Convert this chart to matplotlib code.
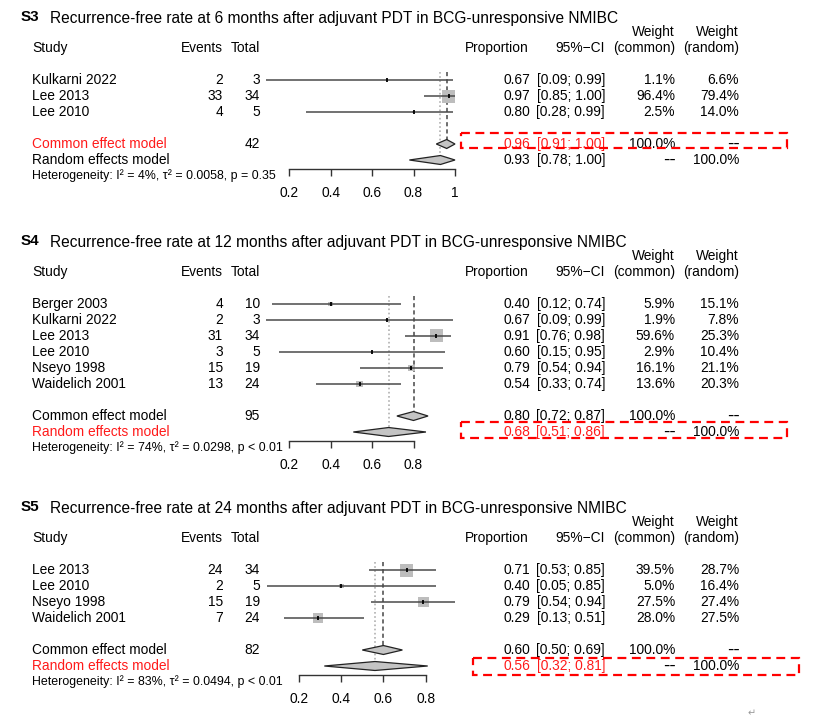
import numpy as np
import matplotlib
matplotlib.use('Agg')
import matplotlib.pyplot as plt
from matplotlib.patches import Polygon, Rectangle
from matplotlib.transforms import blended_transform_factory

plt.rcParams['font.family'] = ['Liberation Sans', 'DejaVu Sans']

# ---- data: S3 (6 months) ----
s3_title   = 'Recurrence-free rate at 6 months after adjuvant PDT in BCG-unresponsive NMIBC'
s3_study   = ['Kulkarni 2022', 'Lee 2013', 'Lee 2010']
s3_events  = [2, 33, 4]
s3_total   = [3, 34, 5]
s3_prop    = [0.67, 0.97, 0.80]
s3_lo      = [0.09, 0.85, 0.28]
s3_hi      = [0.99, 1.00, 0.99]
s3_wcom    = [1.1, 96.4, 2.5]
s3_wran    = [6.6, 79.4, 14.0]
s3_common  = [0.96, 0.91, 1.00]
s3_random  = [0.93, 0.78, 1.00]
s3_n       = 42
s3_het     = ['4%', '0.0058', 'p = 0.35']
s3_ticks   = [0.2, 0.4, 0.6, 0.8, 1.0]

# ---- data: S4 (12 months) ----
s4_title   = 'Recurrence-free rate at 12 months after adjuvant PDT in BCG-unresponsive NMIBC'
s4_study   = ['Berger 2003', 'Kulkarni 2022', 'Lee 2013', 'Lee 2010', 'Nseyo 1998', 'Waidelich 2001']
s4_events  = [4, 2, 31, 3, 15, 13]
s4_total   = [10, 3, 34, 5, 19, 24]
s4_prop    = [0.40, 0.67, 0.91, 0.60, 0.79, 0.54]
s4_lo      = [0.12, 0.09, 0.76, 0.15, 0.54, 0.33]
s4_hi      = [0.74, 0.99, 0.98, 0.95, 0.94, 0.74]
s4_wcom    = [5.9, 1.9, 59.6, 2.9, 16.1, 13.6]
s4_wran    = [15.1, 7.8, 25.3, 10.4, 21.1, 20.3]
s4_common  = [0.80, 0.72, 0.87]
s4_random  = [0.68, 0.51, 0.86]
s4_n       = 95
s4_het     = ['74%', '0.0298', 'p < 0.01']
s4_ticks   = [0.2, 0.4, 0.6, 0.8]

# ---- data: S5 (24 months) ----
s5_title   = 'Recurrence-free rate at 24 months after adjuvant PDT in BCG-unresponsive NMIBC'
s5_study   = ['Lee 2013', 'Lee 2010', 'Nseyo 1998', 'Waidelich 2001']
s5_events  = [24, 2, 15, 7]
s5_total   = [34, 5, 19, 24]
s5_prop    = [0.71, 0.40, 0.79, 0.29]
s5_lo      = [0.53, 0.05, 0.54, 0.13]
s5_hi      = [0.85, 0.85, 0.94, 0.51]
s5_wcom    = [39.5, 5.0, 27.5, 28.0]
s5_wran    = [28.7, 16.4, 27.4, 27.5]
s5_common  = [0.60, 0.50, 0.69]
s5_random  = [0.56, 0.32, 0.81]
s5_n       = 82
s5_het     = ['83%', '0.0494', 'p < 0.01']
s5_ticks   = [0.2, 0.4, 0.6, 0.8]

W, H = 821, 723
RED = '#ff1a1a'
FS = 9.9
ROW = 16.0  # px per row

fig = plt.figure(figsize=(W / 100, H / 100), dpi=100)


def fx(px):
    return px / W


def forest(label, title, study, events, total, prop, lo, hi, wcom, wran,
           common, random, n, het, ticks, y0, x02, ppu, highlight, box):
    ax = fig.add_axes([0, 0, 1, 1])
    ax.patch.set_alpha(0)
    ax.axis('off')
    ax.set_xlim(0.2 - x02 / ppu, 0.2 + (W - x02) / ppu)
    ax.set_ylim((H - y0) / ROW, -y0 / ROW)
    tr = blended_transform_factory(fig.transFigure, ax.transData)

    k = len(study)
    rc, rr = k + 1, k + 2          # rows of common / random model
    rows = np.arange(k)

    # titles
    ax.text(fx(21), -3.95, label, transform=tr, fontsize=11, fontweight='bold', va='center')
    ax.text(fx(50), -3.85, title, transform=tr, fontsize=11.2, va='center')

    # headers
    hdr = dict(transform=tr, fontsize=FS, va='center')
    ax.text(fx(32), -2, 'Study', ha='left', **hdr)
    ax.text(fx(223), -2, 'Events', ha='right', **hdr)
    ax.text(fx(260), -2, 'Total', ha='right', **hdr)
    ax.text(fx(529), -2, 'Proportion', ha='right', **hdr)
    ax.text(fx(605), -2, '95%\u2212CI', ha='right', **hdr)
    ax.text(fx(675), -3, 'Weight', ha='right', **hdr)
    ax.text(fx(675), -2, '(common)', ha='right', **hdr)
    ax.text(fx(739), -3, 'Weight', ha='right', **hdr)
    ax.text(fx(739), -2, '(random)', ha='right', **hdr)

    # study rows
    for i in range(k):
        ax.text(fx(32), i, study[i], ha='left', **hdr)
        ax.text(fx(223), i, str(events[i]), ha='right', **hdr)
        ax.text(fx(260), i, str(total[i]), ha='right', **hdr)
        ax.text(fx(530), i, '%.2f' % prop[i], ha='right', **hdr)
        ax.text(fx(605), i, '[%.2f; %.2f]' % (lo[i], hi[i]), ha='right', **hdr)
        ax.text(fx(675), i, '%.1f%%' % wcom[i], ha='right', **hdr)
        ax.text(fx(739), i, '%.1f%%' % wran[i], ha='right', **hdr)

    # model rows
    for r, name, est, wc, wr, key in [(rc, 'Common effect model', common, '100.0%', '--', 'common'),
                                      (rr, 'Random effects model', random, '--', '100.0%', 'random')]:
        col = RED if key == highlight else 'black'
        ax.text(fx(32), r, name, ha='left', color=col, **hdr)
        if key == 'common':
            ax.text(fx(260), r, str(n), ha='right', **hdr)
        ax.text(fx(530), r, '%.2f' % est[0], ha='right', color=col, **hdr)
        ax.text(fx(605), r, '[%.2f; %.2f]' % (est[1], est[2]), ha='right', color=col, **hdr)
        for xp, s in [(675, wc), (739, wr)]:
            if s == '--':
                ax.text(fx(xp + 1), r + 0.05, s, transform=tr, fontsize=13.5, va='center', ha='right')
            else:
                ax.text(fx(xp), r, s, ha='right', **hdr)

    ax.text(fx(32), rr + 0.97,
            'Heterogeneity: I\u00b2 = %s, \u03c4\u00b2 = %s, %s' % tuple(het),
            transform=tr, fontsize=8.9, va='center')

    # reference lines
    dh = 0.28
    ax.plot([common[0]] * 2, [-0.5, rc - dh], color='#555555', lw=1.2, ls=(0, (2.5, 1.8)), zorder=1)
    ax.plot([random[0]] * 2, [-0.5, rr - dh], color='#b0b0b0', lw=1.2, ls=(0, (1, 1.5)), zorder=1)

    # squares, CI lines, point marks
    wmax = max(wcom)
    side = 13 * np.sqrt(np.array(wcom) / wmax) * 0.72
    ax.scatter(prop, rows, s=side ** 2, marker='s', color='#bdbdbd', linewidths=0, zorder=2)
    ax.hlines(rows, lo, hi, color='#4a4a4a', lw=1.1, zorder=3)
    ax.plot(prop, rows, ls='none', marker='|', ms=3.5, mew=1.3, color='black', zorder=4)

    # diamonds
    for r, est in [(rc, common), (rr, random)]:
        ax.add_patch(Polygon([[est[1], r], [est[0], r - dh], [est[2], r], [est[0], r + dh]],
                             closed=True, facecolor='#c4c4c4', edgecolor='#222222', lw=0.9, zorder=3))

    # x axis
    ya = rr + 0.56
    ax.plot([ticks[0], ticks[-1]], [ya, ya], color='#333333', lw=1.0)
    ax.vlines(ticks, ya, ya + 0.44, color='#333333', lw=1.0)
    for t in ticks:
        ax.text(t, rr + 2.05, ('%g' % t), ha='center', va='center', fontsize=FS)

    # highlight box
    bx0, bx1, by0, by1 = box
    ax.add_patch(Rectangle((fx(bx0), by0), fx(bx1 - bx0), by1 - by0, transform=tr,
                           fill=False, edgecolor='#ff0000', lw=1.6, ls=(0, (4, 2.5)), zorder=5))


forest('S3', s3_title, s3_study, s3_events, s3_total, s3_prop, s3_lo, s3_hi, s3_wcom, s3_wran,
       s3_common, s3_random, s3_n, s3_het, s3_ticks,
       y0=80, x02=289, ppu=207.5, highlight='common', box=(461, 787, 3.3, 4.27))
forest('S4', s4_title, s4_study, s4_events, s4_total, s4_prop, s4_lo, s4_hi, s4_wcom, s4_wran,
       s4_common, s4_random, s4_n, s4_het, s4_ticks,
       y0=304, x02=289, ppu=207.5, highlight='random', box=(461, 787, 7.38, 8.38))
forest('S5', s5_title, s5_study, s5_events, s5_total, s5_prop, s5_lo, s5_hi, s5_wcom, s5_wran,
       s5_common, s5_random, s5_n, s5_het, s5_ticks,
       y0=570, x02=299, ppu=211, highlight='random', box=(473, 799, 5.5, 6.56))

fig.text(752 / W, 1 - 713 / H, '\u21b5', fontsize=7, color='#999999', ha='center', va='center')

fig.savefig('out.png', dpi=100)
